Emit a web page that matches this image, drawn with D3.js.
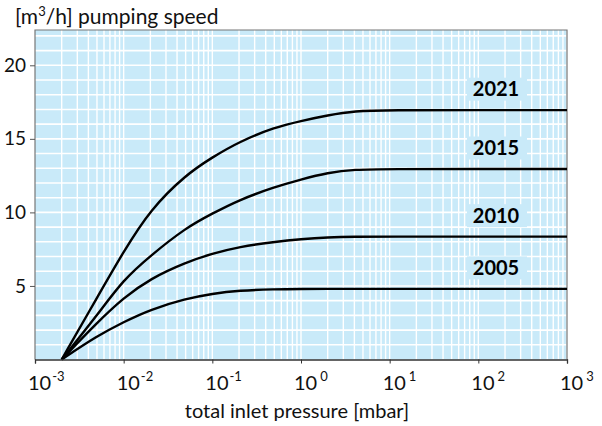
<!DOCTYPE html>
<html><head><meta charset="utf-8">
<script src="https://cdn.jsdelivr.net/npm/d3@7"></script>
<style>
body{margin:0;background:#fff}
text{font-family:Lato,"DejaVu Sans",sans-serif}
</style>
</head><body><svg id="c" width="602" height="426"></svg>
<script>
// ---- data ----
const pressures = [0.002, 0.005, 0.01, 0.02, 0.05, 0.1, 0.2, 0.5, 1, 2, 4, 10, 100, 1000];
const speed2021 = [0, 4.2, 7.35, 10.2, 12.55, 13.75, 14.8, 15.78, 16.22, 16.6, 16.9, 16.95, 16.95, 16.95];
const speed2015 = [0, 3.0, 5.45, 7.05, 8.95, 9.92, 10.85, 11.72, 12.24, 12.7, 12.92, 12.95, 12.95, 12.95];
const speed2010 = [0, 2.5, 4.2, 5.5, 6.6, 7.2, 7.66, 8.0, 8.19, 8.31, 8.35, 8.35, 8.35, 8.35];
const speed2005 = [0, 1.6, 2.55, 3.4, 4.13, 4.48, 4.69, 4.78, 4.8, 4.8, 4.8, 4.8, 4.8, 4.8];
const seriesNames = ["2021", "2015", "2010", "2005"];
const seriesValues = [speed2021, speed2015, speed2010, speed2005];
const xTickExponents = [-3, -2, -1, 0, 1, 2, 3];
const yTicks = [5, 10, 15, 20];
const yTitle = "pumping speed";
const xTitle = "total inlet pressure [mbar]";

// ---- layout ----
const svg = d3.select("#c");
const L = 35, R = 567, T = 30, B = 359.5;
const x = d3.scaleLog().domain([1e-3, 1e3]).range([L, R]);
const y = d3.scaleLinear().domain([0, 22.4]).range([B, T]);
const bg = "#c9eaf9";

svg.append("rect").attr("x", L).attr("y", T).attr("width", R - L).attr("height", B - T).attr("fill", bg);

// vertical grid (log minor)
const vGrid = [];
for (let e = -3; e < 3; e++) for (let m = 2; m <= 10; m++) vGrid.push(m * Math.pow(10, e));
svg.append("g").selectAll("line").data(vGrid).join("line")
  .attr("x1", d => x(d)).attr("x2", d => x(d)).attr("y1", T).attr("y2", B)
  .attr("stroke", "#fff").attr("stroke-width", 1.4);
// horizontal grid
const hGrid = d3.range(1, 23);
svg.append("g").selectAll("line").data(hGrid).join("line")
  .attr("x1", L).attr("x2", R).attr("y1", d => y(d)).attr("y2", d => y(d))
  .attr("stroke", "#fff").attr("stroke-width", 1.6);

// frame
svg.append("path").attr("d", `M${L},${B}V${T}H${R}V${B}`).attr("fill", "none").attr("stroke", "#777").attr("stroke-width", 1.2);

// curves
const line = d3.line().x((d, i) => x(pressures[i])).y(d => y(d)).curve(d3.curveBasis);
svg.append("g").selectAll("path").data(seriesValues).join("path")
  .attr("d", d => line(d)).attr("fill", "none").attr("stroke", "#000").attr("stroke-width", 2.4);

// series labels
const lg = svg.append("g");
seriesNames.forEach((n, i) => {
  const vals = seriesValues[i];
  const cy = y(vals[vals.length - 1]) - 21;
  lg.append("rect").attr("x", 467).attr("y", cy - 11.5).attr("width", 60).attr("height", 23).attr("fill", bg);
  lg.append("text").attr("x", 496).attr("y", cy).attr("dy", "0.36em").attr("text-anchor", "middle")
    .attr("font-size", 20).attr("font-weight", "bold").attr("fill", "#000").text(n);
});

// axes
const yAxis = d3.axisLeft(y).tickValues(yTicks).tickSize(5).tickPadding(4).tickFormat(d3.format("d"));
const gy = svg.append("g").attr("transform", `translate(${L},0)`).call(yAxis);
gy.select(".domain").remove();
gy.selectAll(".tick line").attr("stroke", "#555");
gy.selectAll("text").attr("font-size", 19).attr("fill", "#111").attr("font-family", "Lato");

const xAxis = d3.axisBottom(x).tickValues(xTickExponents.map(e => Math.pow(10, e))).tickSize(4).tickFormat("");
const gx = svg.append("g").attr("transform", `translate(0,${B})`).call(xAxis);
gx.select(".domain").attr("stroke", "#333").attr("stroke-width", 1.3);
gx.selectAll(".tick line").attr("stroke", "#333");

// decade labels with superscript exponents
xTickExponents.forEach(e => {
  const t = svg.append("text").attr("x", x(Math.pow(10, e)) - 7).attr("y", 390)
    .attr("font-size", 20).attr("fill", "#111");
  t.append("tspan").text("10");
  t.append("tspan").attr("dx", e < 0 ? 1 : 3).attr("dy", -9).attr("font-size", 13).text(e < 0 ? "-" + Math.abs(e) : String(e));
});

// titles
const yt = svg.append("text").attr("x", 15).attr("y", 24).attr("font-size", 21).attr("fill", "#111");
yt.append("tspan").text("[m");
yt.append("tspan").attr("dy", -8).attr("font-size", 13).text("3");
yt.append("tspan").attr("dy", 8).text("/h] " + yTitle);

svg.append("text").attr("x", 297).attr("y", 418).attr("text-anchor", "middle").attr("font-size", 20).attr("fill", "#111").text(xTitle);
</script>
</body></html>
